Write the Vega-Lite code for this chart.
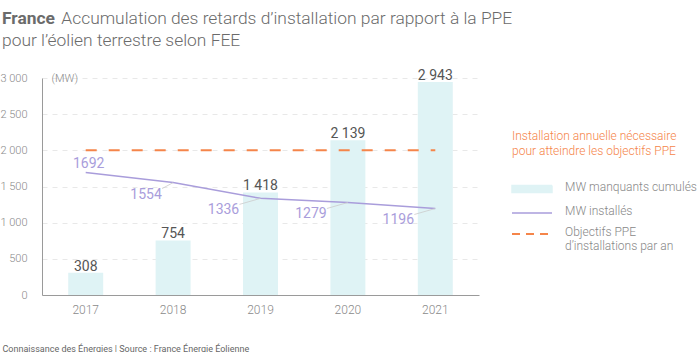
{
  "$schema": "https://vega.github.io/schema/vega-lite/v6.json",
  "width": 437,
  "height": 217,
  "autosize": {"type": "none"},
  "padding": {"left": 42, "top": 78, "right": 221, "bottom": 57},
  "background": "white",
  "config": {
    "locale": {"number": {"decimal": ",", "thousands": " ", "grouping": [3], "currency": ["", " €"]}},
    "font": "Roboto",
    "view": {"stroke": null},
    "axisY": {
      "labelOverlap": false,
      "format": ",d",
      "ticks": false,
      "domain": true,
      "domainColor": "#9a9a9a",
      "labelColor": "#8a8a8a",
      "labelFontSize": 11,
      "labelFontWeight": 300,
      "labelPadding": 15,
      "grid": true,
      "gridColor": "#e8e8e8",
      "gridDash": [5, 5],
      "titleAngle": 0,
      "titleAlign": "left",
      "titleBaseline": "middle",
      "titleX": 9,
      "titleY": 0,
      "titleFontSize": 11,
      "titleFontWeight": 300,
      "titleColor": "#8a8a8a"
    }
  },
  "title": {
    "text": "France",
    "subtitle": ["\u200b\u00a0\u00a0\u00a0\u00a0\u00a0\u00a0\u00a0\u00a0\u00a0\u00a0\u00a0\u00a0\u00a0\u00a0Accumulation des retards d’installation par rapport à la PPE", "pour l’éolien terrestre selon FEE"],
    "anchor": "start",
    "frame": "group",
    "dx": -40,
    "font": "Roboto",
    "fontSize": 17.4,
    "fontWeight": "bold",
    "color": "#6b6b6b",
    "subtitleFont": "Roboto",
    "subtitleFontSize": 17.4,
    "subtitleFontWeight": 300,
    "subtitleColor": "#6b6b6b",
    "subtitleLineHeight": 22,
    "subtitlePadding": -17.4,
    "offset": 20
  },
  "data": {
    "values": [
      {"year": "2017", "missing": 308, "installed": 1692, "objective": 2000},
      {"year": "2018", "missing": 754, "installed": 1554, "objective": 2000},
      {"year": "2019", "missing": 1418, "installed": 1336, "objective": 2000},
      {"year": "2020", "missing": 2139, "installed": 1279, "objective": 2000},
      {"year": "2021", "missing": 2943, "installed": 1196, "objective": 2000}
    ]
  },
  "encoding": {
    "x": {
      "field": "year",
      "type": "ordinal",
      "scale": {"paddingInner": 0.6, "paddingOuter": 0.3},
      "axis": {
        "labelAngle": 0,
        "ticks": false,
        "domainColor": "#9a9a9a",
        "labelColor": "#8a8a8a",
        "labelFontSize": 12,
        "labelFontWeight": 300,
        "labelPadding": 9,
        "title": "Connaissance des Énergies | Source : France Énergie Éolienne",
        "titleX": -40,
        "titleY": 53,
        "titleAlign": "left",
        "titleAnchor": "start",
        "titleBaseline": "middle",
        "titleFontSize": 9,
        "titleFontWeight": "normal",
        "titleColor": "#666666"
      }
    }
  },
  "layer": [
    {
      "mark": {"type": "bar"},
      "encoding": {
        "y": {
          "field": "missing",
          "type": "quantitative",
          "scale": {"domain": [0, 3000], "nice": false},
          "axis": {"title": "(MW)", "values": [0, 500, 1000, 1500, 2000, 2500, 3000]}
        },
        "color": {
          "datum": "MW manquants cumulés",
          "type": "nominal",
          "scale": {
            "domain": ["MW manquants cumulés", "MW installés", "Objectifs PPE"],
            "range": ["#dff3f5", "#a99ddb", "#f5854a"]
          },
          "legend": {
            "orient": "none",
            "legendX": 470,
            "legendY": 53,
            "title": ["Installation annuelle nécessaire", "pour atteindre les objectifs PPE"],
            "titleColor": "#f5854a",
            "titleFontSize": 12,
            "titleFontWeight": 300,
            "titleLineHeight": 15,
            "titlePadding": 25,
            "labelColor": "#888888",
            "labelFontSize": 12,
            "labelFontWeight": 300,
            "labelOffset": 41,
            "labelBaseline": "top",
            "labelExpr": "datum.label == 'Objectifs PPE' ? ['Objectifs PPE', 'd’installations par an'] : datum.label",
            "rowPadding": 9,
            "encode": {
              "symbols": {
                "update": {
                  "x": {"value": 20},
                  "shape": {"signal": "datum.value === 'MW manquants cumulés' ? 'M-1,-0.18H1V0.18H-1Z' : 'M-1,0H1'"},
                  "fill": {"signal": "datum.value === 'MW manquants cumulés' ? '#dff3f5' : 'transparent'"},
                  "stroke": {"signal": "datum.value === 'MW installés' ? '#a99ddb' : datum.value === 'Objectifs PPE' ? '#f5854a' : 'transparent'"},
                  "strokeDash": {"signal": "datum.value === 'Objectifs PPE' ? [8, 6] : [1, 0]"},
                  "strokeWidth": {"signal": "datum.value === 'Objectifs PPE' ? 2 : 1.5"},
                  "size": {"value": 1600},
                  "opacity": {"value": 1}
                }
              },
              "labels": {"update": {"dy": {"value": -7}}}
            }
          }
        }
      }
    },
    {
      "mark": {"type": "line", "strokeDash": [11, 12], "strokeWidth": 2},
      "encoding": {
        "y": {"field": "objective", "type": "quantitative", "axis": {"title": "(MW)", "values": [0, 500, 1000, 1500, 2000, 2500, 3000]}},
        "color": {"datum": "Objectifs PPE", "type": "nominal"}
      }
    },
    {
      "mark": {"type": "line", "strokeWidth": 1.5},
      "encoding": {
        "y": {"field": "installed", "type": "quantitative", "axis": {"title": "(MW)", "values": [0, 500, 1000, 1500, 2000, 2500, 3000]}},
        "color": {"datum": "MW installés", "type": "nominal"}
      }
    },
    {
      "transform": [{"filter": "datum.year == '2018'"}],
      "mark": {"type": "rule", "color": "#cccccc", "strokeWidth": 0.8, "x2Offset": -11, "y2Offset": 6},
      "encoding": {
        "y": {"field": "installed", "type": "quantitative", "axis": {"title": "(MW)", "values": [0, 500, 1000, 1500, 2000, 2500, 3000]}},
        "x2": {"field": "year"},
        "y2": {"field": "installed"}
      }
    },
    {
      "transform": [{"filter": "datum.year > '2018'"}],
      "mark": {"type": "rule", "color": "#cccccc", "strokeWidth": 0.8, "x2Offset": -21, "y2Offset": 6},
      "encoding": {
        "y": {"field": "installed", "type": "quantitative", "axis": {"title": "(MW)", "values": [0, 500, 1000, 1500, 2000, 2500, 3000]}},
        "x2": {"field": "year"},
        "y2": {"field": "installed"}
      }
    },
    {
      "mark": {"type": "text", "fontSize": 14, "color": "#555555", "baseline": "alphabetic", "dy": -2},
      "encoding": {
        "y": {"field": "missing", "type": "quantitative", "axis": {"title": "(MW)", "values": [0, 500, 1000, 1500, 2000, 2500, 3000]}},
        "text": {"field": "missing", "type": "quantitative", "format": ",d"}
      }
    },
    {
      "transform": [{"filter": "datum.year == '2017'"}],
      "mark": {"type": "text", "fontSize": 14, "color": "#a99ddb", "baseline": "alphabetic", "dx": 3, "dy": -5},
      "encoding": {
        "y": {"field": "installed", "type": "quantitative", "axis": {"title": "(MW)", "values": [0, 500, 1000, 1500, 2000, 2500, 3000]}},
        "text": {"field": "installed", "type": "quantitative", "format": "d"}
      }
    },
    {
      "transform": [{"filter": "datum.year == '2018'"}],
      "mark": {"type": "text", "fontSize": 14, "color": "#a99ddb", "baseline": "alphabetic", "dx": -27, "dy": 16},
      "encoding": {
        "y": {"field": "installed", "type": "quantitative", "axis": {"title": "(MW)", "values": [0, 500, 1000, 1500, 2000, 2500, 3000]}},
        "text": {"field": "installed", "type": "quantitative", "format": "d"}
      }
    },
    {
      "transform": [{"filter": "datum.year > '2018'"}],
      "mark": {"type": "text", "fontSize": 14, "color": "#a99ddb", "baseline": "alphabetic", "dx": -37, "dy": 15.5},
      "encoding": {
        "y": {"field": "installed", "type": "quantitative", "axis": {"title": "(MW)", "values": [0, 500, 1000, 1500, 2000, 2500, 3000]}},
        "text": {"field": "installed", "type": "quantitative", "format": "d"}
      }
    }
  ]
}
